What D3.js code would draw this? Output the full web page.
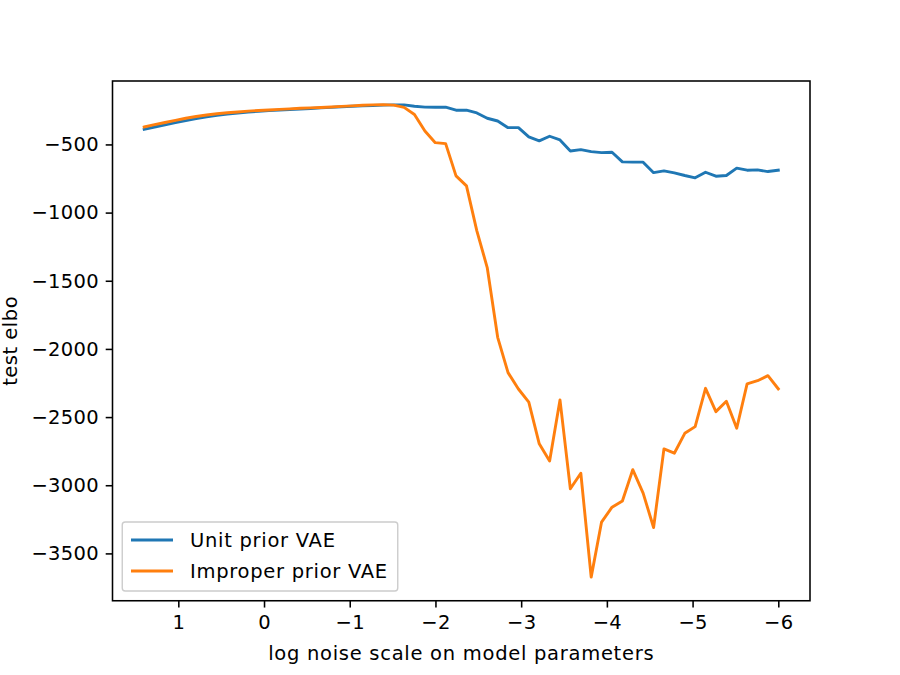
<!DOCTYPE html>
<html>
<head>
<meta charset="utf-8">
<script src="https://cdn.jsdelivr.net/npm/d3@7/dist/d3.min.js"></script>
<style>
  html, body { margin: 0; padding: 0; background: #fff; }
  svg { display: block; }
  text { font-family: "DejaVu Sans", sans-serif; fill: #000; }
</style>
</head>
<body>
<svg id="chart" width="900" height="675"></svg>
<script>
// ---- data ----
const xValues = [1.398, 1.277, 1.155, 1.034, 0.913, 0.792, 0.670, 0.549, 0.428, 0.306,
  0.185, 0.064, -0.057, -0.179, -0.300, -0.421, -0.542, -0.664, -0.785, -0.906,
  -1.028, -1.149, -1.270, -1.391, -1.513, -1.634, -1.755, -1.877, -1.998, -2.119,
  -2.240, -2.362, -2.483, -2.604, -2.726, -2.847, -2.968, -3.089, -3.211, -3.332,
  -3.453, -3.574, -3.696, -3.817, -3.938, -4.060, -4.181, -4.302, -4.423, -4.545,
  -4.666, -4.787, -4.909, -5.030, -5.151, -5.272, -5.394, -5.515, -5.636, -5.758,
  -5.879, -6.000];

const unitPrior = [-389, -372, -356, -340, -325, -311, -298, -287, -278, -270,
  -263, -257, -252, -248, -244, -240, -236, -232, -228, -224,
  -220, -217, -214, -212, -210, -210, -220, -226, -227, -227,
  -249, -249, -269, -308, -328, -377, -377, -445, -474, -440,
  -467, -548, -538, -553, -560, -557, -628, -630, -630, -707,
  -694, -709, -728, -745, -704, -733, -728, -674, -689, -687,
  -699, -689];

const improperPrior = [-372, -355, -339, -323, -308, -295, -284, -275, -268, -262,
  -256, -251, -247, -243, -239, -235, -232, -229, -225, -221,
  -217, -213, -210, -208, -212, -228, -280, -402, -487, -494,
  -731, -804, -1134, -1403, -1915, -2174, -2294, -2390, -2696, -2822,
  -2374, -3026, -2912, -3674, -3270, -3161, -3115, -2886, -3058, -3310,
  -2733, -2765, -2619, -2570, -2289, -2460, -2384, -2582, -2257, -2233,
  -2196, -2293];

const seriesNames = ["Unit prior VAE", "Improper prior VAE"];
const seriesColors = ["#1f77b4", "#ff7f0e"];
const xTicks = [1, 0, -1, -2, -3, -4, -5, -6];
const yTicks = [-500, -1000, -1500, -2000, -2500, -3000, -3500];
const xLabel = "log noise scale on model parameters";
const yLabel = "test elbo";

// ---- layout ----
const mLeft = 112.5, mRight = 810, mTop = 81, mBottom = 600.75;
const fs = 19.5;
const tickLen = 6.8, tickPad = 6.8, lw = 1.56;

const svg = d3.select("#chart");

function padded(ext) {
  const d = (ext[1] - ext[0]) * 0.05;
  return [ext[0] - d, ext[1] + d];
}
const xExt = padded(d3.extent(xValues));
const yExt = padded(d3.extent(unitPrior.concat(improperPrior)));

const x = d3.scaleLinear().domain([xExt[1], xExt[0]]).range([mLeft, mRight]);
const y = d3.scaleLinear().domain(yExt).range([mBottom, mTop]);

const fmt = v => (v < 0 ? "\u2212" + Math.abs(v) : String(v));

// lines
const series = [unitPrior, improperPrior];
const line = d3.line().x((d, i) => x(xValues[i])).y(d => y(d));
const plot = svg.append("g");
series.forEach((s, k) => {
  plot.append("path")
    .datum(s)
    .attr("d", line)
    .attr("fill", "none")
    .attr("stroke", seriesColors[k])
    .attr("stroke-width", 2.9)
    .attr("stroke-linejoin", "round")
    .attr("stroke-linecap", "square");
});

// axes
const xAxis = d3.axisBottom(x).tickValues(xTicks).tickFormat(fmt)
  .tickSize(tickLen).tickPadding(tickPad);
const yAxis = d3.axisLeft(y).tickValues(yTicks).tickFormat(fmt)
  .tickSize(tickLen).tickPadding(tickPad);

const gx = svg.append("g").attr("transform", `translate(0,${mBottom})`).call(xAxis);
const gy = svg.append("g").attr("transform", `translate(${mLeft},0)`).call(yAxis);
[gx, gy].forEach(g => {
  g.select(".domain").remove();
  g.selectAll(".tick line").attr("stroke", "#000").attr("stroke-width", lw);
  g.selectAll(".tick text").attr("font-size", fs).attr("font-family", "DejaVu Sans")
    .attr("fill", "#000").attr("letter-spacing", "0.3px");
});
gx.selectAll(".tick text").attr("dy", "0.76em");

// frame
svg.append("rect")
  .attr("x", mLeft).attr("y", mTop)
  .attr("width", mRight - mLeft).attr("height", mBottom - mTop)
  .attr("fill", "none").attr("stroke", "#000").attr("stroke-width", lw);

// axis labels
svg.append("text")
  .attr("x", (mLeft + mRight) / 2).attr("y", 660)
  .attr("text-anchor", "middle").attr("font-size", fs)
  .attr("letter-spacing", "0.72px")
  .text(xLabel);
svg.append("text")
  .attr("transform", `translate(16.5,${(mTop + mBottom) / 2}) rotate(-90)`)
  .attr("text-anchor", "middle").attr("font-size", fs)
  .attr("letter-spacing", "0.5px")
  .text(yLabel);

// legend
const lg = svg.append("g");
const lx = 122.25, lyBottom = 591, lwid = 275.5, lh = 69;
lg.append("rect")
  .attr("x", lx).attr("y", lyBottom - lh)
  .attr("width", lwid).attr("height", lh)
  .attr("rx", 3).attr("ry", 3)
  .attr("fill", "#fff").attr("fill-opacity", 0.8)
  .attr("stroke", "#cccccc").attr("stroke-width", 1.4);
const rowY = [540, 571];
seriesNames.forEach((name, k) => {
  lg.append("line")
    .attr("x1", 131).attr("x2", 173)
    .attr("y1", rowY[k]).attr("y2", rowY[k])
    .attr("stroke", seriesColors[k]).attr("stroke-width", 2.9);
  lg.append("text")
    .attr("x", 190).attr("y", rowY[k] + 7)
    .attr("font-size", fs)
    .attr("letter-spacing", "0.72px")
    .text(name);
});
</script>
</body>
</html>
